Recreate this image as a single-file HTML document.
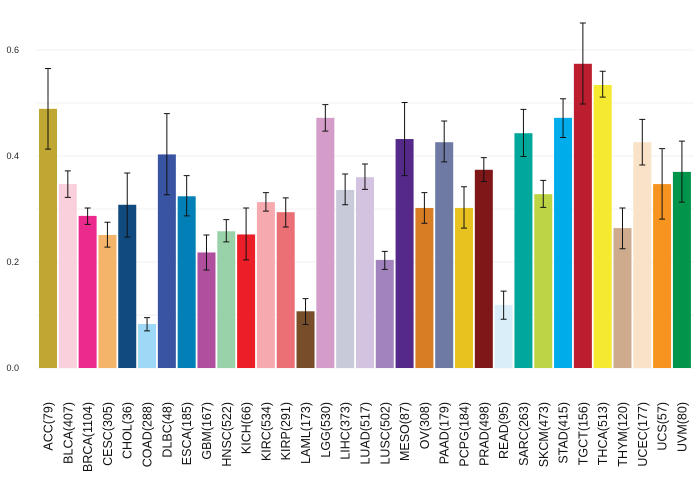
<!DOCTYPE html>
<html><head><meta charset="utf-8"><style>
body{margin:0;background:#fff;}
svg text{font-family:"Liberation Sans",sans-serif;}
</style></head><body>
<svg id="chart" width="700" height="480" xmlns="http://www.w3.org/2000/svg"></svg>
<script>
const categories=["ACC(79)","BLCA(407)","BRCA(1104)","CESC(305)","CHOL(36)","COAD(288)","DLBC(48)","ESCA(185)","GBM(167)","HNSC(522)","KICH(66)","KIRC(534)","KIRP(291)","LAML(173)","LGG(530)","LIHC(373)","LUAD(517)","LUSC(502)","MESO(87)","OV(308)","PAAD(179)","PCPG(184)","PRAD(498)","READ(95)","SARC(263)","SKCM(473)","STAD(415)","TGCT(156)","THCA(513)","THYM(120)","UCEC(177)","UCS(57)","UVM(80)"];
const values=[0.489,0.347,0.287,0.251,0.308,0.083,0.403,0.324,0.218,0.258,0.252,0.313,0.294,0.107,0.472,0.336,0.360,0.204,0.432,0.302,0.426,0.302,0.374,0.119,0.443,0.328,0.472,0.574,0.534,0.264,0.426,0.347,0.370];
const upper=[0.565,0.372,0.302,0.275,0.368,0.095,0.480,0.363,0.251,0.280,0.302,0.331,0.321,0.131,0.497,0.366,0.385,0.220,0.501,0.331,0.466,0.342,0.397,0.145,0.488,0.354,0.508,0.651,0.560,0.302,0.469,0.414,0.428];
const lower=[0.413,0.322,0.271,0.228,0.247,0.070,0.327,0.287,0.185,0.238,0.204,0.296,0.266,0.082,0.447,0.308,0.337,0.186,0.363,0.273,0.389,0.264,0.352,0.092,0.399,0.303,0.435,0.498,0.511,0.225,0.383,0.281,0.313];
const colors=["#c0a632","#f9d0db","#ec2a8e","#f4b46a","#114a7e","#9dd9f6","#3a54a4","#0080b7","#b04f9d","#99d2a8","#ec1f28","#f6aab0","#eb7076","#774d2a","#d49cc8","#c9cad9","#d3c2e0","#a283bd","#54298a","#d97d25","#6e7aa3","#e8c31f","#7f1719","#daeef9","#00a79a","#bdd545","#00acea","#bd1e2f","#f6ea30","#cfab8e","#fae2c8","#f7941f","#00954a"];
const yTicks=[0,0.2,0.4,0.6];
const svg=document.getElementById('chart');
const NS="http://www.w3.org/2000/svg";
const y0=368,ppu=530,x0=39,step=19.81,bw=18;
function yS(v){return y0-v*ppu;}
function xS(i){return x0+i*step;}
function mk(t,a){const e=document.createElementNS(NS,t);for(const k in a)e.setAttribute(k,a[k]);svg.appendChild(e);return e;}
for(let g=0;g<=6;g++){const l=mk('line',{x1:36,x2:694,y1:yS(g*0.1),y2:yS(g*0.1),stroke:'#f2f2f2','stroke-width':1});

}
yTicks.forEach(t=>{const tx=mk('text',{x:19,y:yS(t)+3,'font-size':9,'text-anchor':'end',fill:'#222'});tx.textContent=t.toFixed(1);

});
categories.forEach((c,i)=>{
const x=xS(i);
const r=mk('rect',{x:x,y:yS(values[i]),width:bw,height:values[i]*ppu,fill:colors[i]});


const cx=x+bw/2;
const e=mk('path',{d:`M${cx},${yS(upper[i])}V${yS(lower[i])}M${cx-3},${yS(upper[i])}H${cx+3}M${cx-3},${yS(lower[i])}H${cx+3}`,stroke:'#111','stroke-width':1,fill:'none'});


const t=mk('text',{x:0,y:0,'font-size':12.5,'text-anchor':'end',fill:'#111',transform:`translate(${cx+4.5},402) rotate(-90)`});
t.textContent=c;


});
</script>
</body></html>
